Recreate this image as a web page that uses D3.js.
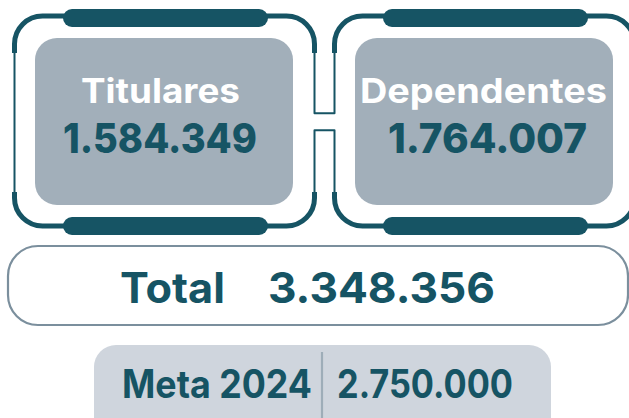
<!DOCTYPE html>
<html>
<head>
<meta charset="utf-8">
<script src="https://cdn.jsdelivr.net/npm/d3@7"></script>
<style>
  html, body { margin: 0; padding: 0; background: #ffffff; }
  svg { display: block; }
</style>
</head>
<body>
<svg id="chart" width="629" height="418"></svg>
<script>
// ---- data ----
const categories = ["Titulares", "Dependentes"];
const values = [1584349, 1764007];
const totalLabel = "Total";
const totalValue = 3348356;
const metaLabel = "Meta 2024";
const metaValue = 2750000;

// ---- styles ----
const TEAL = "#165464";
const GRAY = "#a2afba";
const FONT = "Inter, 'Open Sans', sans-serif";

const locale = d3.formatLocale({ decimal: ",", thousands: ".", grouping: [3], currency: ["", ""] });
const fmt = locale.format(",d");

const svg = d3.select("#chart");
const W = 629, H = 418;

// panel positions through a band scale
const x = d3.scaleBand().domain(categories).range([14.5, 634.5]).paddingInner(0.0625).paddingOuter(0);
const bw = x.bandwidth(); // 300

const r = 28;
const topY = 16, botY = 226, thickEndTop = 53, thickStartBot = 192;
const connTop = 113.3, connBot = 130.3;

const panels = svg.selectAll("g.panel")
  .data(categories.map((c, i) => ({ c, v: values[i], i })))
  .join("g").attr("class", "panel");

// bars
panels.append("rect")
  .attr("x", d => x(d.c) + 48.5).attr("y", 9)
  .attr("width", 205).attr("height", 18).attr("rx", 9)
  .attr("fill", TEAL);
panels.append("rect")
  .attr("x", d => x(d.c) + 48.5).attr("y", 217)
  .attr("width", 205).attr("height", 18).attr("rx", 9)
  .attr("fill", TEAL);

// thick corner arcs
panels.append("path")
  .attr("fill", "none").attr("stroke", TEAL).attr("stroke-width", 5)
  .attr("d", d => {
    const x0 = x(d.c), x1 = x0 + bw;
    return `M${x0 + 60},${topY} H${x0 + r} A${r},${r} 0 0 0 ${x0},${topY + r} V${thickEndTop}` +
           `M${x1 - 60},${topY} H${x1 - r} A${r},${r} 0 0 1 ${x1},${topY + r} V${thickEndTop}` +
           `M${x0},${thickStartBot} V${botY - r} A${r},${r} 0 0 0 ${x0 + r},${botY} H${x0 + 60}` +
           `M${x1},${thickStartBot} V${botY - r} A${r},${r} 0 0 1 ${x1 - r},${botY} H${x1 - 60}`;
  });

// thin sides
panels.append("path")
  .attr("fill", "none").attr("stroke", TEAL).attr("stroke-width", 2)
  .attr("d", d => {
    const x0 = x(d.c), x1 = x0 + bw;
    let p = "";
    if (d.i === 0) p += `M${x0},${thickEndTop} V${thickStartBot}`;
    if (d.i === categories.length - 1) p += `M${x1},${thickEndTop} V${thickStartBot}`;
    return p;
  });

// connectors between neighbouring panels
const pairs = d3.pairs(categories);
svg.selectAll("path.conn").data(pairs).join("path")
  .attr("class", "conn")
  .attr("fill", "none").attr("stroke", TEAL).attr("stroke-width", 2)
  .attr("stroke-linejoin", "round")
  .attr("d", ([a, b]) => {
    const xr = x(a) + bw, xl = x(b);
    return `M${xr},${thickEndTop} V${connTop} H${xl} V${thickEndTop}` +
           `M${xr},${thickStartBot} V${connBot} H${xl} V${thickStartBot}`;
  });

// gray boxes
panels.append("rect")
  .attr("x", d => x(d.c) + 20.5).attr("y", 38)
  .attr("width", 258).attr("height", 167).attr("rx", 22)
  .attr("fill", GRAY);

// labels
const labelW = { "Titulares": 159, "Dependentes": 247 };
const valueW = { "Titulares": 194, "Dependentes": 199 };
const labelCx = { "Titulares": 160.5, "Dependentes": 483.5 };
const valueCx = { "Titulares": 160, "Dependentes": 487.5 };

panels.append("text")
  .attr("x", d => labelCx[d.c]).attr("y", 103)
  .attr("text-anchor", "middle")
  .attr("font-family", FONT).attr("font-weight", 700).attr("font-size", 34)
  .attr("fill", "#ffffff")
  .attr("textLength", d => labelW[d.c]).attr("lengthAdjust", "spacingAndGlyphs")
  .text(d => d.c);

panels.append("text")
  .attr("x", d => valueCx[d.c]).attr("y", 153.3)
  .attr("text-anchor", "middle")
  .attr("font-family", FONT).attr("font-weight", 800).attr("font-size", 41)
  .attr("fill", TEAL)
  .attr("textLength", d => valueW[d.c]).attr("lengthAdjust", "spacingAndGlyphs")
  .text(d => fmt(d.v));

// total box
svg.append("rect")
  .attr("x", 8).attr("y", 246).attr("width", 620).attr("height", 79).attr("rx", 30)
  .attr("fill", "#ffffff").attr("stroke", "#7b8f9d").attr("stroke-width", 2.2);

svg.append("text")
  .attr("x", 120).attr("y", 302.7)
  .attr("font-family", FONT).attr("font-weight", 700).attr("font-size", 42)
  .attr("fill", TEAL)
  .attr("textLength", 105).attr("lengthAdjust", "spacingAndGlyphs")
  .text(totalLabel);
svg.append("text")
  .attr("x", 268).attr("y", 302.7)
  .attr("font-family", FONT).attr("font-weight", 700).attr("font-size", 43)
  .attr("fill", TEAL)
  .attr("textLength", 227).attr("lengthAdjust", "spacingAndGlyphs")
  .text(fmt(totalValue));

// meta box
svg.append("rect")
  .attr("x", 94).attr("y", 345).attr("width", 457).attr("height", 100).attr("rx", 22)
  .attr("fill", "#cfd5dd");
svg.append("line")
  .attr("x1", 322).attr("x2", 322).attr("y1", 352).attr("y2", H)
  .attr("stroke", "#9eadb8").attr("stroke-width", 2.2);

svg.append("text")
  .attr("x", 122).attr("y", 397.7)
  .attr("font-family", FONT).attr("font-weight", 700).attr("font-size", 39)
  .attr("fill", TEAL)
  .attr("textLength", 190).attr("lengthAdjust", "spacingAndGlyphs")
  .text(metaLabel);
svg.append("text")
  .attr("x", 337).attr("y", 397.7)
  .attr("font-family", FONT).attr("font-weight", 700).attr("font-size", 39)
  .attr("fill", TEAL)
  .attr("textLength", 176).attr("lengthAdjust", "spacingAndGlyphs")
  .text(fmt(metaValue));
</script>
</body>
</html>
